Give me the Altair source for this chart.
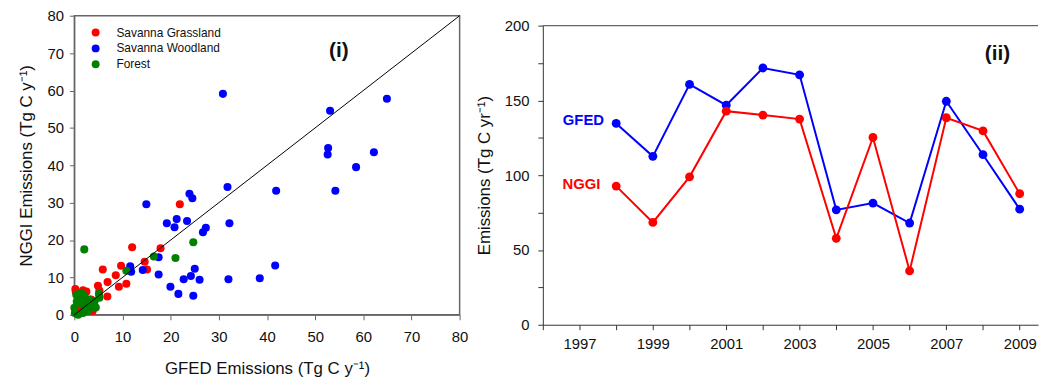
import altair as alt
import pandas as pd

FONT = "Liberation Sans"

# ---------------- Panel (i) data ----------------
grass_x = [21.9, 12.0, 17.9, 5.9, 9.7, 8.6, 14.6, 15.1, 6.9, 10.8, 9.25, 4.9, 6.85,
           0.2, 1.8, 2.5, 5.2, 2.9, 3.6, 1.4, 3.8, 0.5, 3.5, 1.0, 2.0, 0.3]
grass_y = [29.6, 18.1, 17.8, 12.1, 13.1, 10.6, 14.2, 12.1, 8.75, 8.3, 7.5, 7.8, 4.9,
           6.9, 6.6, 6.2, 6.5, 2.65, 3.1, 1.9, 1.0, 0.2, 4.1, 4.5, 3.0, 6.2]

wood_x = [30.85, 53.1, 64.9, 52.7, 52.6, 62.2, 58.5, 54.2, 41.9, 31.8, 23.9, 24.5,
          14.95, 21.25, 19.2, 20.8, 23.4, 32.2, 27.3, 26.7, 11.6, 11.8, 14.2, 17.5,
          17.5, 25.0, 24.2, 22.7, 26.0, 19.95, 21.6, 24.7, 32.0, 38.5, 41.7]
wood_y = [59.1, 54.6, 57.8, 44.6, 42.9, 43.5, 39.5, 33.2, 33.2, 34.2, 32.4, 31.2,
          29.6, 25.6, 24.5, 23.4, 25.1, 24.5, 23.3, 22.1, 13.0, 11.5, 12.0, 15.4,
          10.8, 12.3, 10.4, 9.5, 9.4, 7.5, 5.6, 5.1, 9.5, 9.8, 13.2]

forest_x = [2.06, 16.5, 24.7, 21.0, 10.8, 4.45, 5.1, 0.4, 1.4, 2.1, 3.1, 4.2, 5.2,
            0.0, 0.1, 1.1, 2.1, 2.8, 0.8, 2.5, 1.5, 0.5, 3.5, 1.8]
forest_y = [17.5, 15.6, 19.4, 15.2, 11.8, 1.95, 5.6, 5.4, 5.9, 5.0, 4.1, 3.6, 4.6,
            1.9, 0.5, 3.2, 1.9, 1.0, 0.0, 2.7, 4.3, 3.5, 2.0, 0.5]

cats = ["Savanna Grassland", "Savanna Woodland", "Forest"]
cat_colors = ["#ff0000", "#0000ff", "#008000"]

rows = []
for k, (xs_, ys_) in enumerate([(grass_x, grass_y), (wood_x, wood_y), (forest_x, forest_y)]):
    for x, y in zip(xs_, ys_):
        rows.append({"gfed": x, "nggi": y, "type": cats[k], "ord": k})
scatter_df = pd.DataFrame(rows)

diag_df = pd.DataFrame({"a": [0, 80], "b": [0, 80]})

# ---------------- Panel (ii) data ----------------
years = [1998, 1999, 2000, 2001, 2002, 2003, 2004, 2005, 2006, 2007, 2008, 2009]
gfed = [134.6, 112.6, 160.7, 146.8, 171.7, 167.1, 76.8, 81.3, 68.0, 149.4, 113.7, 77.3]
nggi = [92.7, 68.4, 98.9, 142.8, 140.2, 137.5, 57.8, 125.2, 36.0, 138.4, 129.6, 87.6]
series = ["GFED", "NGGI"]
series_colors = ["#0000ff", "#ff0000"]

ts_rows = []
for yr, g, n in zip(years, gfed, nggi):
    ts_rows.append({"year": yr, "value": g, "series": "GFED", "ord": 0})
    ts_rows.append({"year": yr, "value": n, "series": "NGGI", "ord": 1})
ts_df = pd.DataFrame(ts_rows)

# ---------------- Panel (i) ----------------
W1, H1 = 389, 302
ax_col1 = "#666666"
sc = alt.Scale(domain=[0, 80], nice=False, zero=True)

xaxis1 = alt.Axis(values=list(range(0, 90, 10)), title="GFED Emissions (Tg C y⁻¹)",
                  grid=False, tickSize=5, labelPadding=10, titlePadding=16, labelFlush=False,
                  labelFontSize=15, titleFontSize=17, labelFont=FONT, titleFont=FONT,
                  labelColor="#111", titleColor="#111", titleFontWeight="normal",
                  domainColor=ax_col1, tickColor=ax_col1)
yaxis1 = alt.Axis(values=list(range(0, 90, 10)), title="NGGI Emissions (Tg C y⁻¹)",
                  grid=False, tickSize=5, labelPadding=6, titlePadding=12, labelFlush=False,
                  labelFontSize=15, titleFontSize=17, labelFont=FONT, titleFont=FONT,
                  labelColor="#111", titleColor="#111", titleFontWeight="normal",
                  domainColor=ax_col1, tickColor=ax_col1)

col1 = alt.Color("type:N", sort=cats, scale=alt.Scale(domain=cats, range=cat_colors),
                 legend=None)

diag = alt.Chart(diag_df).mark_line(color="black", strokeWidth=1).encode(
    x=alt.X("a:Q", scale=sc, axis=xaxis1),
    y=alt.Y("b:Q", scale=sc, axis=yaxis1),
)

pts = alt.Chart(scatter_df).mark_circle(size=66, opacity=1).encode(
    x=alt.X("gfed:Q", scale=sc, axis=xaxis1),
    y=alt.Y("nggi:Q", scale=sc, axis=yaxis1),
    color=col1,
    order=alt.Order("ord:Q"),
)

# in-plot legend (top-left), laid out in pixel space
leg_df = pd.DataFrame({"type": cats, "ly": [17 + 16 * i for i in range(3)]})
leg_sym = alt.Chart(leg_df).mark_circle(size=64, opacity=1).encode(
    x=alt.value(21.5), y=alt.Y("ly:Q", scale=None), color=col1
)
leg_txt = alt.Chart(leg_df).mark_text(
    font=FONT, fontSize=12, color="#111", align="left", baseline="middle"
).encode(x=alt.value(42.5), y=alt.Y("ly:Q", scale=None), text="type:N")

lab_i = alt.Chart(pd.DataFrame({"t": ["(i)"]})).mark_text(
    font=FONT, fontSize=21, fontWeight="bold", color="#111", align="center", baseline="middle"
).encode(text="t:N", x=alt.value(267), y=alt.value(36))

left = alt.layer(pts, diag, leg_sym, leg_txt, lab_i).properties(
    width=W1, height=H1, view=alt.ViewBackground(stroke=ax_col1, strokeWidth=1.5)
)

# ---------------- Panel (ii) ----------------
W2, H2 = 500, 312
TOP2 = 10
ax_col2 = "#333333"
xs2 = alt.Scale(domain=[1996, 2009.5], nice=False, zero=False)
ys2 = alt.Scale(domain=[0, 200], nice=False, range=[H2, TOP2])

xaxis2 = alt.Axis(values=list(range(1996, 2010)), format="d",
                  labelExpr="datum.value % 2 == 1 ? datum.label : ''",
                  title=None, grid=False, tickSize=5, labelPadding=7, labelFlush=False,
                  labelFontSize=15, labelFont=FONT, labelColor="#111",
                  domainColor=ax_col2, tickColor=ax_col2)
yaxis2 = alt.Axis(values=list(range(0, 225, 25)),
                  labelExpr="datum.value % 50 == 0 ? datum.label : ''",
                  title="Emissions (Tg C yr⁻¹)", grid=False, tickSize=5, labelPadding=9,
                  titlePadding=11, labelFontSize=15, titleFontSize=17, labelFont=FONT,
                  titleFont=FONT, labelColor="#111", titleColor="#111", labelFlush=False,
                  titleFontWeight="normal", domainColor=ax_col2, tickColor=ax_col2)

col2 = alt.Color("series:N", sort=series,
                 scale=alt.Scale(domain=series, range=series_colors), legend=None)

lines = alt.Chart(ts_df).mark_line(strokeWidth=2).encode(
    x=alt.X("year:Q", scale=xs2, axis=xaxis2),
    y=alt.Y("value:Q", scale=ys2, axis=yaxis2),
    color=col2,
)
dots = alt.Chart(ts_df).mark_circle(size=80, opacity=1).encode(
    x=alt.X("year:Q", scale=xs2, axis=xaxis2),
    y=alt.Y("value:Q", scale=ys2, axis=yaxis2),
    color=col2,
    order=alt.Order("ord:Q"),
)

top_rule = alt.Chart(pd.DataFrame({"k": [0]})).mark_rule(color="#666666", strokeWidth=1.5).encode(
    x=alt.value(0), x2=alt.value(W2), y=alt.value(TOP2)
)

lab_df = pd.DataFrame({"t": ["GFED", "NGGI"], "px": [41, 39], "py": [95 + TOP2, 160 + TOP2],
                       "series": ["GFED", "NGGI"]})
ser_labels = alt.Chart(lab_df).mark_text(
    font=FONT, fontSize=15, fontWeight="bold", align="center", baseline="middle"
).encode(text="t:N", x=alt.X("px:Q", scale=None), y=alt.Y("py:Q", scale=None), color=col2)

lab_ii = alt.Chart(pd.DataFrame({"t": ["(ii)"]})).mark_text(
    font=FONT, fontSize=21, fontWeight="bold", color="#111", align="center", baseline="middle"
).encode(text="t:N", x=alt.value(459), y=alt.value(29 + TOP2))

right = alt.layer(top_rule, lines, dots, ser_labels, lab_ii).properties(
    width=W2, height=H2,
    view=alt.ViewBackground(stroke="transparent"),
)

chart = alt.hconcat(left, right, spacing=5).resolve_scale(color="independent").properties(
    padding={"left": 8, "top": -2, "right": 0, "bottom": 0}
).configure(font=FONT)

chart.save("out.html", embed_options={"renderer": "svg", "actions": False})
